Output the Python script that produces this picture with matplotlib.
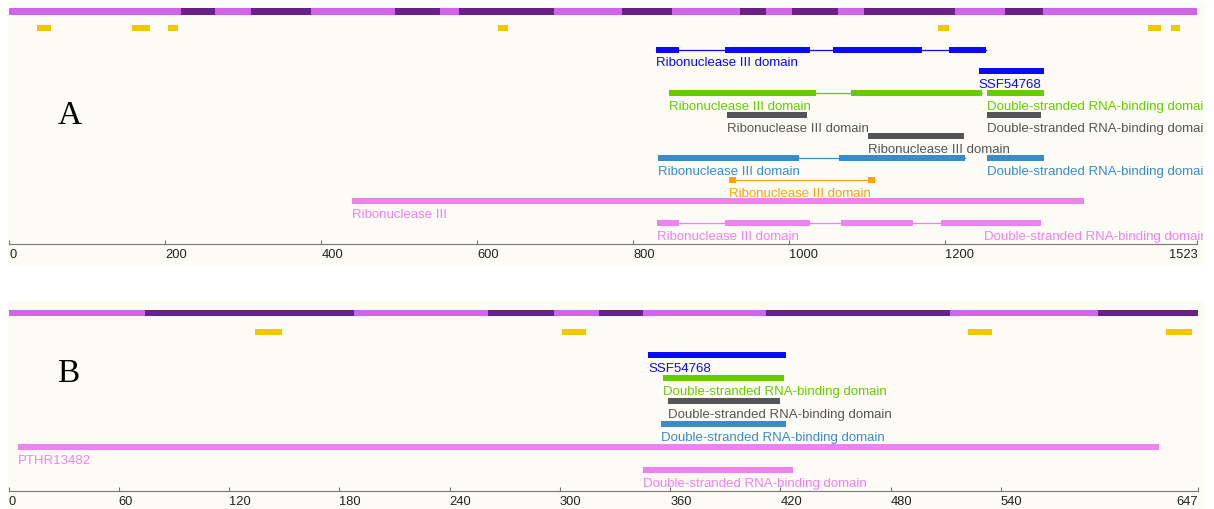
import matplotlib.pyplot as plt
from matplotlib.patches import Rectangle
from matplotlib.transforms import Bbox, TransformedBbox

RN3 = 'Ribonuclease III domain'
DSRBD = 'Double-stranded RNA-binding domain'

# ---- panel A (length 1523) ----
len_a = 1523
ticks_a = [0, 200, 400, 600, 800, 1000, 1200, 1523]
disorder_a = [(220, 264), (310, 387), (494, 552), (577, 698), (786, 850),
              (937, 970), (1004, 1062), (1096, 1213), (1277, 1325)]
lowcomp_a = [(36, 53), (157, 181), (204, 216), (626, 639), (1191, 1205),
             (1460, 1476), (1489, 1501)]
blue_rn3_a = [(829, 859), (917, 1026), (1056, 1170), (1205, 1252)]
ssf_a = [(1243, 1326)]
green_rn3_a = [(846, 1034), (1079, 1247)]
green_ds_a = [(1253, 1326)]
gray_rn3_a = [(920, 1023)]
gray_ds_a = [(1253, 1323)]
gray2_rn3_a = [(1101, 1224)]
steel_rn3_a = [(832, 1013), (1064, 1225)]
steel_ds_a = [(1253, 1327)]
orange_rn3_a = [(923, 931), (1101, 1110)]
pink_fam_a = [(439, 1378)]
pink_rn3_a = [(830, 859), (917, 1026), (1066, 1159), (1195, 1250)]
pink_ds_a = [(1250, 1323)]

# ---- panel B (length 647) ----
len_b = 647
ticks_b = [0, 60, 120, 180, 240, 300, 360, 420, 480, 540, 647]
disorder_b = [(74, 188), (261, 297), (321, 345), (412, 512), (593, 647)]
lowcomp_b = [(134, 149), (301, 314), (522, 535), (630, 644)]
ssf_b = [(348, 423)]
green_ds_b = [(356, 422)]
gray_ds_b = [(359, 420)]
steel_ds_b = [(355, 423)]
pink_fam_b = [(5, 626)]
pink_ds_b = [(345, 427)]

BG = '#fdfbf5'
LIGHTPUR = '#d264e9'
DARKPUR = '#6a2088'
YELLOW = '#f0c800'
BLUE = '#0a0af5'
GREEN = '#66cc00'
GRAY = '#555555'
STEEL = '#3a8cc9'
ORANGE = '#ffa500'
PINK = '#ee82ee'

tracks_a = [
    [(blue_rn3_a, RN3, BLUE)],
    [(ssf_a, 'SSF54768', BLUE)],
    [(green_rn3_a, RN3, GREEN), (green_ds_a, DSRBD, GREEN)],
    [(gray_rn3_a, RN3, GRAY), (gray_ds_a, DSRBD, GRAY)],
    [(gray2_rn3_a, RN3, GRAY)],
    [(steel_rn3_a, RN3, STEEL), (steel_ds_a, DSRBD, STEEL)],
    [(orange_rn3_a, RN3, ORANGE)],
    [(pink_fam_a, 'Ribonuclease III', PINK)],
    [(pink_rn3_a, RN3, PINK), (pink_ds_a, DSRBD, PINK)],
]
tracks_b = [
    [(ssf_b, 'SSF54768', BLUE)],
    [(green_ds_b, DSRBD, GREEN)],
    [(gray_ds_b, DSRBD, GRAY)],
    [(steel_ds_b, DSRBD, STEEL)],
    [(pink_fam_b, 'PTHR13482', PINK)],
    [(pink_ds_b, DSRBD, PINK)],
]

plt.rcParams['font.family'] = ['Liberation Sans', 'DejaVu Sans']

W, H = 1214, 510
fig = plt.figure(figsize=(W / 100, H / 100), dpi=100)
fig.patches.append(Rectangle((8 / W, 1 - 265 / H), 1195 / W, 262 / H,
                             transform=fig.transFigure, color=BG, zorder=-5))
fig.patches.append(Rectangle((8 / W, 0), 1195 / W, 1 - 302 / H,
                             transform=fig.transFigure, color=BG, zorder=-5))
# labels get cut off at the right edge of the panel
clip_box = TransformedBbox(Bbox([[0, 0], [1203 / W, 1]]), fig.transFigure)


def draw_group(ax, y, segs, label, color):
    if len(segs) > 1:
        ax.plot([segs[0][0], segs[-1][1]], [y, y], color=color, lw=0.9)
    ax.broken_barh([(s, e - s) for s, e in segs], (y - 3, 6),
                   facecolors=color)
    t = ax.text(segs[0][0], y + 16, label, color=color, fontsize=9.5,
                va='baseline', ha='left')
    t.set_clip_box(clip_box)
    t.set_clip_on(True)


def panel(rect, ylim, length, ticks, disorder, lowcomp, tracks,
          top_y, low_y, row0, step):
    ax = fig.add_axes(rect)
    ax.set_facecolor('none')
    ax.set_xlim(0, length)
    ax.set_ylim(*ylim)
    for s in ['top', 'left', 'right']:
        ax.spines[s].set_visible(False)
    ax.spines['bottom'].set_color('#777777')
    ax.set_yticks([])
    ax.set_xticks(ticks)
    ax.set_xticklabels([str(t) for t in ticks])
    ax.tick_params(axis='x', direction='in', length=3, color='#777777',
                   labelsize=9.3, labelcolor='#222222', pad=3)
    labs = ax.get_xticklabels()
    for lab in labs:
        lab.set_ha('left')
    labs[-1].set_ha('right')

    ax.broken_barh([(0, length)], (top_y - 3, 6.5), facecolors=LIGHTPUR)
    ax.broken_barh([(s, e - s) for s, e in disorder], (top_y - 3, 6.5),
                   facecolors=DARKPUR)
    ax.broken_barh([(s, e - s) for s, e in lowcomp], (low_y - 3, 6),
                   facecolors=YELLOW)
    for i, groups in enumerate(tracks):
        y = row0 + i * step
        for segs, label, color in groups:
            draw_group(ax, y, segs, label, color)
    return ax


panel([9.3 / W, 1 - 244.7 / H, 1188 / W, 244.7 / H], (244.7, 0),
      len_a, ticks_a, disorder_a, lowcomp_a, tracks_a,
      12, 29, 50.5, 21.7)
panel([8.6 / W, 1 - 492 / H, 1189 / W, (492 - 295) / H], (492, 295),
      len_b, ticks_b, disorder_b, lowcomp_b, tracks_b,
      313.5, 332.5, 356, 23.1)

fig.text(70 / W, 1 - 116 / H, 'A', family='Liberation Serif', fontsize=24,
         ha='center', va='center')
fig.text(68 / W, 1 - 374 / H, 'B', family='Liberation Serif', fontsize=24,
         ha='center', va='center')

fig.savefig('out.png', dpi=100, facecolor='white')
